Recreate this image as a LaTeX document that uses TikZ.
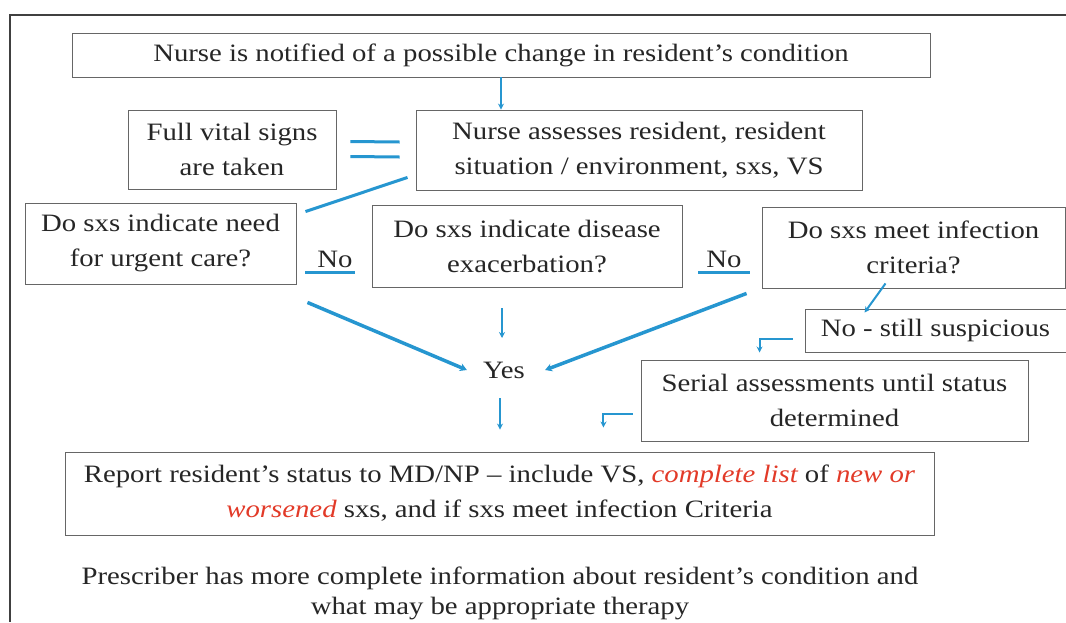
\documentclass[tikz,border=0pt]{standalone}
\usepackage{fontspec}
\setmainfont{Liberation Serif}[FakeStretch=1.15]
\usetikzlibrary{arrows.meta,calc}
\definecolor{flowblue}{RGB}{38,150,208}
\definecolor{flowred}{RGB}{226,58,40}
\tikzset{
  every node/.style={font=\fontsize{25}{35}\selectfont, text=black!85},
  box/.style={draw=black!60, line width=0.9pt, align=center, inner sep=0pt},
  link/.style={draw=flowblue, line width=2pt, -{Stealth[length=6pt,width=6pt]}},
  boldlink/.style={draw=flowblue, line width=3.5pt, -{Stealth[length=7pt,width=8pt]}},
  bar/.style={draw=flowblue, line width=3pt},
}
\newcommand{\redit}[1]{\textcolor{flowred}{\itshape #1}}
\begin{document}
\begin{tikzpicture}[x=1pt,y=-1pt]
\useasboundingbox (0,0) rectangle (1066,622);
\draw[black!75, line width=2.5pt] (1066,15) -- (10,15) -- (10,622);

\node[box, minimum width=858, minimum height=44] (notify) at (501,55) {Nurse is notified of a possible change in resident’s condition};
\node[box, minimum width=208, minimum height=79] (vitals) at (232,149.5) {Full vital signs\\are taken};
\node[box, minimum width=446, minimum height=80] (assess) at (639,150) {Nurse assesses resident, resident\\situation / environment, sxs, VS};
\node[box, minimum width=271, minimum height=81] (need) at (160.5,243.5) {Do sxs indicate need\\for urgent care?};
\node[box, minimum width=310, minimum height=82] (disease) at (527,246) {Do sxs indicate disease\\exacerbation?};
\node[box, minimum width=303, minimum height=81] (infect) at (913.5,247.5) {Do sxs meet infection\\criteria?};
\node[box, minimum width=261, minimum height=43] (still) at (935.5,330.5) {No - still suspicious};
\node[box, minimum width=387, minimum height=81] (serial) at (834.5,400.5) {Serial assessments until status\\determined};
\node[box, minimum width=869, minimum height=83] (report) at (499.5,493.5) {Report resident’s status to MD/NP – include VS, \redit{complete list} of \redit{new or}\\\redit{worsened} sxs, and if sxs meet infection Criteria};
\node[align=center, font=\fontsize{25}{30}\selectfont] (outcome) at (500,593) {Prescriber has more complete information about resident’s condition and\\what may be appropriate therapy};

\node[inner sep=0pt] (yes) at (504,370) {Yes};
\node[inner sep=0pt, anchor=base] (no1) at (335,267) {No};
\node[inner sep=0pt, anchor=base] (no2) at (724,267) {No};

\draw[link] (notify.south) -- (notify.south |- assess.north);
\draw[bar] ($(vitals.east)+(14,-8)$) -- ($(assess.west)+(-16,-8)$);
\draw[bar] ($(vitals.east)+(14,7)$) -- ($(assess.west)+(-16,7)$);
\draw[bar] ($(assess.south west)+(-8,-13)$) -- ($(need.north east)+(9,9)$);
\draw[bar] ($(no1.base)+(-30,5)$) -- ($(no1.base)+(20,5)$);
\draw[bar] ($(no2.base)+(-26,5)$) -- ($(no2.base)+(26,5)$);

\draw[boldlink] ($(need.south east)+(11,18)$) -- ([xshift=-16pt]yes.west);
\draw[boldlink] ($(infect.south west)+(-15,5)$) -- ([xshift=20pt]yes.east);
\draw[link] ($(yes |- disease.south)+(-2,21)$) -- ($(yes)+(-2,-32)$);
\draw[link] ($(yes)+(-4,28)$) -- ($(yes |- report.north)+(-4,-22)$);

\draw[link] ($(infect.south)+(-28,-5)$) -- ($(still.north west)+(60,4)$);
\draw[link] ($(still.west)+(-12,8)$) -| ($(serial.north west)+(119,-7)$);
\draw[link] ($(serial.west)+(-8,13)$) -| ($(report.north east)+(-331,-24)$);
\end{tikzpicture}
\end{document}
